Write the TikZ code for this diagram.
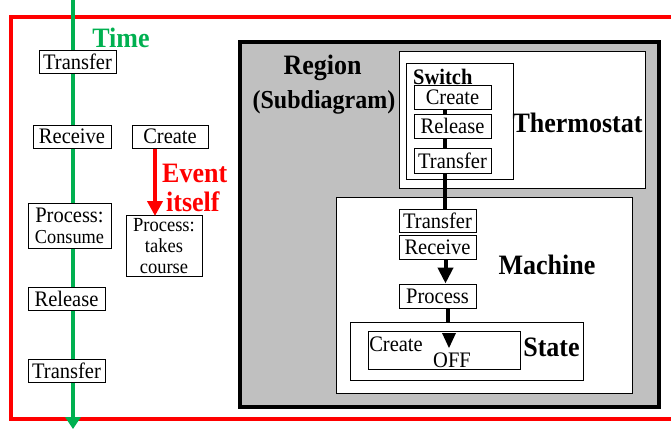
\documentclass[tikz,border=0pt]{standalone}
\usepackage{fontspec}
\usepackage{graphicx}
\setmainfont{Liberation Serif}
\usetikzlibrary{arrows.meta,backgrounds}
\definecolor{tgreen}{RGB}{0,176,80}
\definecolor{rgray}{RGB}{192,192,192}
\newcommand\vstr[1]{\scalebox{1}[1.08]{#1}}
\begin{document}
\begin{tikzpicture}[x=1pt,y=-1pt,
  ev/.style={draw, fill=white, line width=1pt, inner sep=0pt, font=\fontsize{20.5}{22}\selectfont},
  cont/.style={draw, fill=white, line width=1pt, inner sep=0pt, anchor=north west},
  lbl/.style={inner sep=0pt, font=\fontsize{26}{28}\selectfont\bfseries},
  txt/.style={inner sep=0pt, font=\fontsize{20.5}{22}\selectfont},
  thick line/.style={line width=4pt}
]
\useasboundingbox (0,0) rectangle (671,429);

% containers (background layer)
\begin{pgfonlayer}{background}
  \draw[red, line width=4pt] (11,17) rectangle (700,419);
  \node[draw, line width=4pt, fill=rgray, inner sep=0pt, anchor=north west,
        minimum width=419pt, minimum height=365pt] (region) at (238,40) {};
  \node[cont, minimum width=246pt, minimum height=137pt] (therm) at (399,51) {};
  \node[cont, minimum width=107pt, minimum height=116pt] (switchbox) at (406,63) {};
  \node[cont, minimum width=296pt, minimum height=196pt] (machine) at (336,197) {};
  \node[cont, minimum width=233pt, minimum height=58pt] (state) at (350,322) {};
  \node[cont, minimum width=152pt, minimum height=38pt] (offbox) at (368,331) {};
\end{pgfonlayer}

% timeline ends
\coordinate (gtop) at (73,0);
\coordinate (gbot) at (73,429);

% left column
\node[txt, text=tgreen, font=\fontsize{26}{28}\selectfont\bfseries] (time) at (121,38) {\vstr{Time}};
\node[ev, minimum width=77pt, minimum height=23pt] (lt1) at (77.5,61.5) {\vstr{Transfer}};
\node[ev, minimum width=78pt, minimum height=23pt] (lrecv) at (72,136.5) {\vstr{Receive}};
\node[ev, minimum width=76pt, minimum height=23pt] (lcreate) at (170,136.5) {\vstr{Create}};
\node[ev, minimum width=83pt, minimum height=45pt, align=center, font=\fontsize{20.5}{21}\selectfont]
  (lproc) at (69.5,225.5) {\vstr{Process:}\\\vstr{\fontsize{18.3}{21}\selectfont Consume}};
\node[ev, minimum width=76pt, minimum height=61pt, align=center, font=\fontsize{18.5}{21}\selectfont]
  (ltakes) at (164,246) {\vstr{Process:}\\\vstr{takes}\\\vstr{course}};
\node[ev, minimum width=77pt, minimum height=23pt] (lrel) at (66.5,298.5) {\vstr{Release}};
\node[ev, minimum width=77pt, minimum height=23pt] (lt2) at (66.5,370.5) {\vstr{Transfer}};
\node[lbl, text=red, anchor=base west] (event) at (162,182) {\vstr{Event}};
\node[lbl, text=red, anchor=base west] (itself) at (166,211) {\vstr{itself}};

% region
\node[lbl] (reg) at (322.5,68) {\vstr{Region}};
\node[lbl, font=\fontsize{24}{26}\selectfont\bfseries] (subd) at (324,102) {\vstr{(Subdiagram)}};
\node[lbl, font=\fontsize{20.5}{22}\selectfont\bfseries, anchor=west] (switchlbl) at (413,77) {\vstr{Switch}};
\node[ev, minimum width=77pt, minimum height=24pt] (swcreate) at (452.5,97) {\vstr{Create}};
\node[ev, minimum width=77pt, minimum height=24pt] (swrel) at (452.5,126) {\vstr{Release}};
\node[ev, minimum width=77pt, minimum height=25pt] (swtrans) at (452.5,160.5) {\vstr{Transfer}};
\node[lbl] (thermlbl) at (577.5,123) {\vstr{Thermostat}};

\node[ev, minimum width=77pt, minimum height=23pt] (mtrans) at (437.5,220.5) {\vstr{Transfer}};
\node[ev, minimum width=77pt, minimum height=24pt] (mrecv) at (437.5,247) {\vstr{Receive}};
\node[ev, minimum width=77pt, minimum height=24pt] (mproc) at (437.5,296) {\vstr{Process}};
\node[lbl] (machlbl) at (547,265) {\vstr{Machine}};

\node[lbl] (statelbl) at (551.5,347) {\vstr{State}};
\node[txt] (offcreate) at (396,344) {\vstr{Create}};
\node[txt] (off) at (452,360) {\vstr{OFF}};
\fill (442,333) -- (456,333) -- (449,348) -- cycle;

% connectors
\begin{pgfonlayer}{background}
  \draw[tgreen, line width=4pt, -{Triangle[width=15pt,length=12pt]}] (gtop) -- (gbot);
  \draw[line width=4.5pt] ([xshift=-7.5pt]swcreate.south) -- ([xshift=7.5pt]mtrans.north);
  \draw[thick line, -{Triangle[width=15pt,length=16pt]}] ([xshift=8pt]mrecv.south) -- ([xshift=8pt]mproc.north);
  \draw[thick line] ([xshift=10.5pt]mproc.south) -- ([xshift=10.5pt]mproc.south |- state.north);
\end{pgfonlayer}
\draw[red, line width=4pt, -{Triangle[width=15pt,length=15pt]}] ([xshift=-15pt]lcreate.south) -- ([xshift=-9pt,yshift=-1pt]ltakes.north);
\end{tikzpicture}
\end{document}
